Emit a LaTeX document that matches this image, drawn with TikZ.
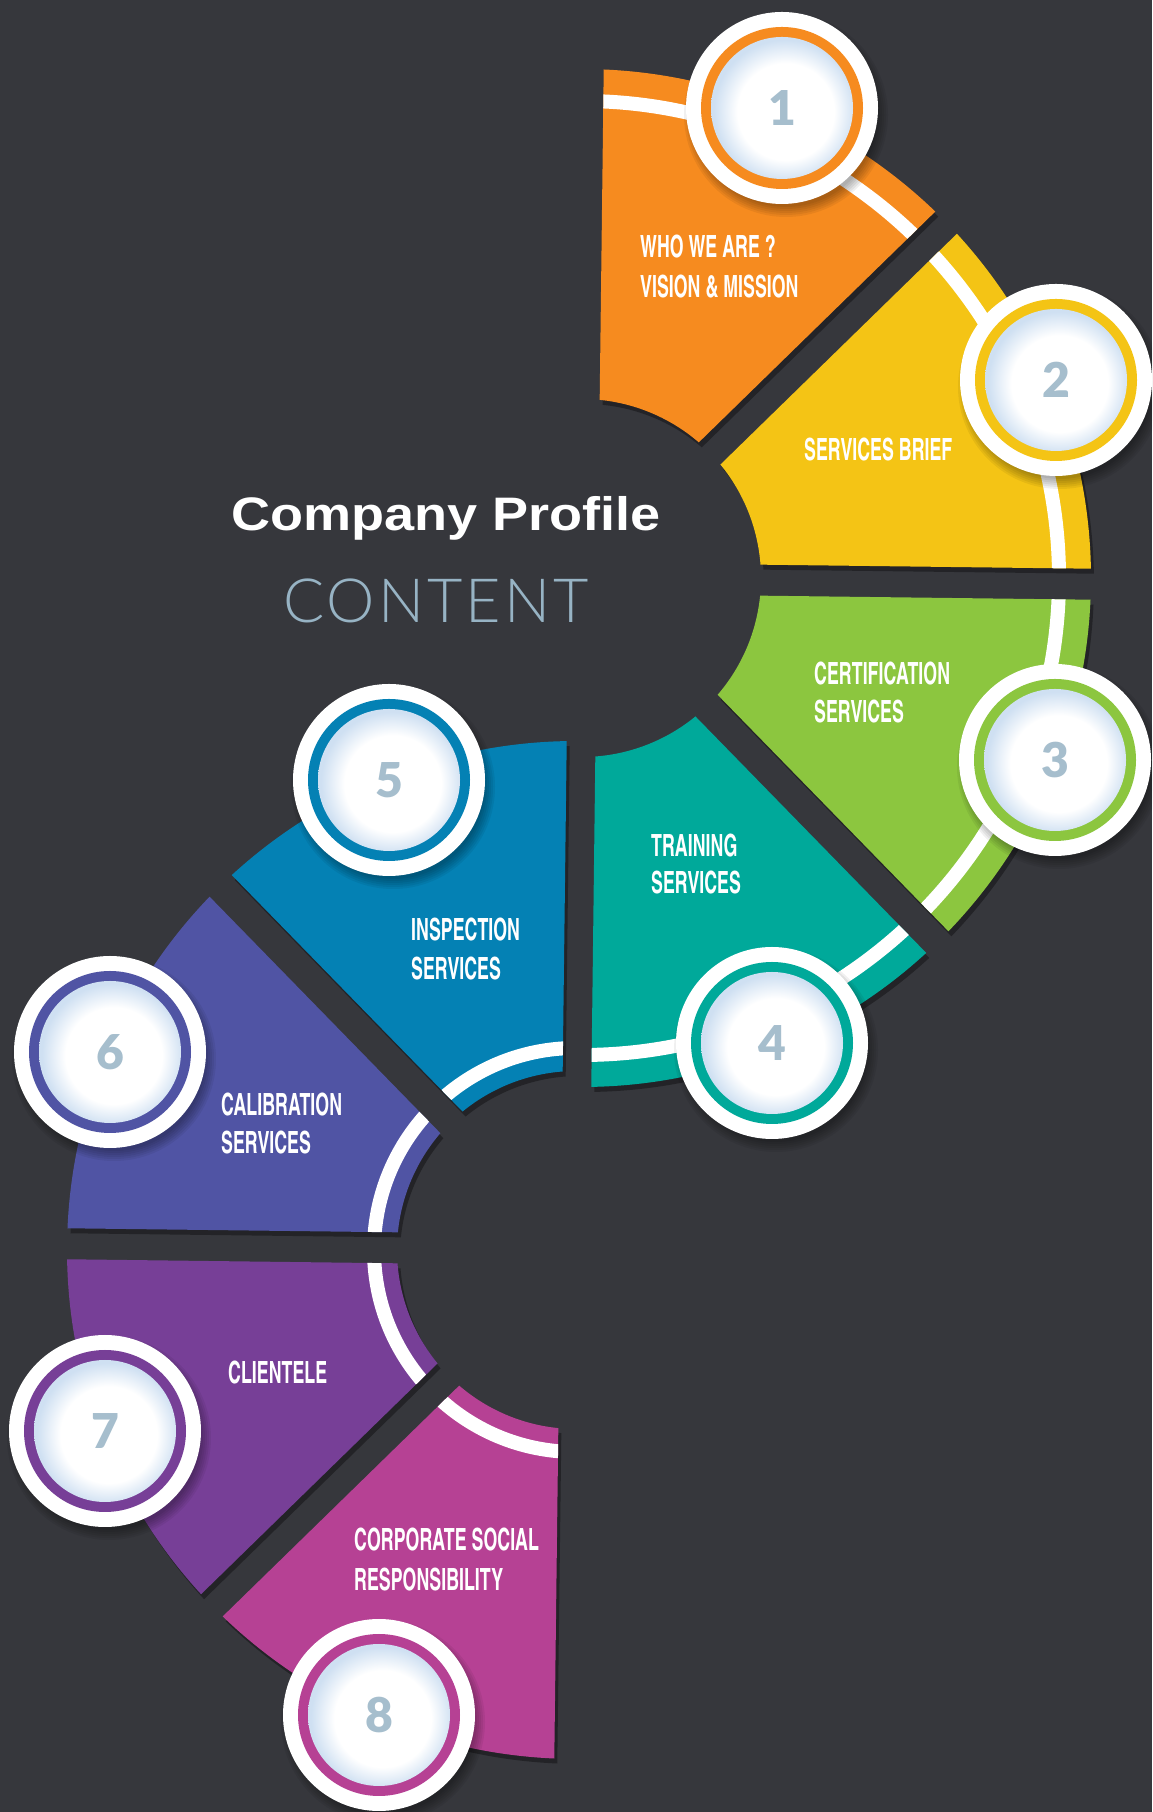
\documentclass[tikz,border=0pt]{standalone}
\usepackage{fontspec}
\setmainfont{Liberation Sans}
\IfFontExistsTF{TeX Gyre Heros Cn}
 {\newfontfamily\labelfont[FakeStretch=0.71]{TeX Gyre Heros Cn}}
 {\newfontfamily\labelfont[FakeStretch=0.55]{Liberation Sans}}
\newfontfamily\titlefont[FakeStretch=1.15]{Liberation Sans}
\IfFontExistsTF{Lato Light}
 {\newfontfamily\contentfont[LetterSpace=5]{Lato Light}}
 {\newfontfamily\contentfont[LetterSpace=5]{Lato}}
\IfFontExistsTF{Lato Black}
 {\newfontfamily\numfont{Lato Black}}
 {\newfontfamily\numfont[FakeBold=1.5]{Lato}}

\definecolor{bg}{HTML}{36373C}
\definecolor{c1}{HTML}{F68B1F}
\definecolor{c2}{HTML}{F4C415}
\definecolor{c3}{HTML}{8CC63F}
\definecolor{c4}{HTML}{00A99A}
\definecolor{c5}{HTML}{0481B4}
\definecolor{c6}{HTML}{5054A4}
\definecolor{c7}{HTML}{773F97}
\definecolor{c8}{HTML}{B64194}
\definecolor{numcol}{HTML}{A6BECD}
\definecolor{contentcol}{HTML}{97B3C4}
\definecolor{rim}{HTML}{CFE0F2}

\pgfdeclareradialshading{badgeshade}{\pgfpoint{2bp}{-2bp}}{color(0bp)=(white); color(17bp)=(white); color(25bp)=(rim); color(50bp)=(rim)}

\tikzset{
  segp/.style n args={4}{insert path={
    ({#1+509*cos(#3+1.745)},{#2+509*sin(#3+1.745)})
    arc[start angle={#3+1.745}, end angle={#4-1.745}, radius=509]
    -- ({#1+179*cos(#4-4.967)},{#2+179*sin(#4-4.967)})
    arc[start angle={#4-4.967}, end angle={#3+4.967}, radius=179] -- cycle}},
  lbl/.style={anchor=base west, inner sep=0pt, text=white,
    font=\labelfont\bfseries\fontsize{30.6}{36}\selectfont},
  numtxt/.style={inner sep=0pt, text=numcol,
    font=\numfont\fontsize{48}{50}\selectfont},
}

\newcommand\segshadow[4]{\fill[black, opacity=.35, shift={(3,-5)}, segp={#1}{#2}{#3}{#4}];}
\newcommand\segfill[6]{%
  \fill[#5, segp={#1}{#2}{#3}{#4}];
  \begin{scope}
    \clip[segp={#1}{#2}{#3}{#4}];
    \draw[white, line width=14] (#1,#2) circle[radius=#6];
  \end{scope}}
\newcommand\mybadge[4]{%
  \foreach \k in {0,...,5}{\fill[black, opacity=0.06] (#1+4,#2-7) circle[radius=92+2*\k];}
  \fill[white] (#1,#2) circle[radius=96];
  \fill[#3] (#1,#2) circle[radius=81];
  \shade[shading=badgeshade] (#1,#2) circle[radius=71];
  \node[numtxt] (badge#4) at (#1,#2) {#4};}

\begin{document}
\begin{tikzpicture}[x=1pt,y=1pt]
\fill[bg] (0,0) rectangle (1152,1812);
\useasboundingbox (0,0) rectangle (1152,1812);
\clip (0,0) rectangle (1152,1812);

% shadows
\segshadow{582}{1234}{44.3}{89.3}
\segshadow{582}{1234}{-0.7}{44.3}
\segshadow{582}{1234}{-45.7}{-0.7}
\segshadow{582}{1234}{-90.7}{-45.7}
\segshadow{576}{562}{89.3}{134.3}
\segshadow{576}{562}{134.3}{179.3}
\segshadow{576}{562}{179.3}{224.3}
\segshadow{576}{562}{224.3}{269.3}

% segments
\segfill{582}{1234}{44.3}{89.3}{c1}{477}
\segfill{582}{1234}{-0.7}{44.3}{c2}{477}
\segfill{582}{1234}{-45.7}{-0.7}{c3}{477}
\segfill{582}{1234}{-90.7}{-45.7}{c4}{477}
\segfill{576}{562}{89.3}{134.3}{c5}{202}
\segfill{576}{562}{134.3}{179.3}{c6}{202}
\segfill{576}{562}{179.3}{224.3}{c7}{202}
\segfill{576}{562}{224.3}{269.3}{c8}{202}

% labels
\node[lbl] (l1a) at (640,1554) {WHO WE ARE ?};
\node[lbl] (l1b) at (640,1514) {VISION \& MISSION};
\node[lbl] (l2) at (804,1351) {SERVICES BRIEF};
\node[lbl] (l3a) at (814,1127) {CERTIFICATION};
\node[lbl] (l3b) at (814,1089) {SERVICES};
\node[lbl] (l4a) at (651,955) {TRAINING};
\node[lbl] (l4b) at (651,918) {SERVICES};
\node[lbl] (l5a) at (411,871) {INSPECTION};
\node[lbl] (l5b) at (411,832) {SERVICES};
\node[lbl] (l6a) at (221,696) {CALIBRATION};
\node[lbl] (l6b) at (221,658) {SERVICES};
\node[lbl] (l7) at (228,428) {CLIENTELE};
\node[lbl] (l8a) at (354,261) {CORPORATE SOCIAL};
\node[lbl] (l8b) at (354,221) {RESPONSIBILITY};

% badges
\mybadge{782}{1704}{c1}{1}
\mybadge{1056}{1432}{c2}{2}
\mybadge{1055}{1052}{c3}{3}
\mybadge{772}{769}{c4}{4}
\mybadge{389}{1032}{c5}{5}
\mybadge{110}{760}{c6}{6}
\mybadge{105}{381}{c7}{7}
\mybadge{379}{97}{c8}{8}

% title
\node[anchor=base west, inner sep=0pt, text=white,
  font=\titlefont\bfseries\fontsize{47}{50}\selectfont] (title) at (231,1281) {Company Profile};
\node[anchor=base west, inner sep=0pt, text=contentcol,
  font=\contentfont\fontsize{61}{64}\selectfont] (content) at (283,1189) {CONTENT};
\end{tikzpicture}
\end{document}
